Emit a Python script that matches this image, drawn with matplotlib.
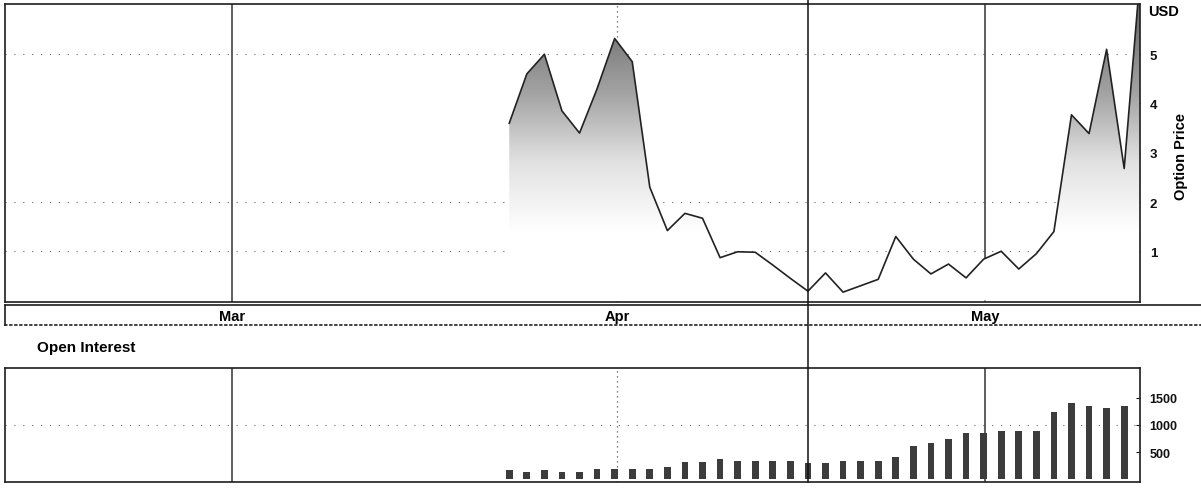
import numpy as np
import matplotlib
matplotlib.use("Agg")
import matplotlib.pyplot as plt
from matplotlib.colors import LinearSegmentedColormap, Normalize
from matplotlib.lines import Line2D

plt.rcParams['font.family'] = ['Liberation Sans', 'DejaVu Sans']
plt.rcParams['font.weight'] = 'bold'

# trading-day index of each observation
days = np.arange(37)
price = [3.6, 4.6, 5.0, 3.85, 3.4, 4.3, 5.32, 4.85, 2.3, 1.42,
         1.77, 1.67, 0.87, 0.99, 0.98, 0.72, 0.45, 0.19, 0.56, 0.17,
         0.3, 0.43, 1.3, 0.84, 0.54, 0.74, 0.46, 0.84, 1.0, 0.64,
         0.95, 1.4, 3.77, 3.39, 5.1, 2.68, 7.0]
open_interest = [175, 130, 175, 143, 143, 200, 200, 187, 187, 231,
                 312, 312, 375, 343, 343, 343, 343, 300, 300, 343,
                 343, 343, 406, 605, 668, 749, 855, 855, 893, 893,
                 893, 1230, 1404, 1342, 1311, 1342]
month_labels = ['Mar', 'Apr', 'May']
month_pos = [-15.8, 6.15, 27.1]
cursor_day = 17
price_ticks = [1, 2, 3, 4, 5]
price_grid = [1, 2, 5]
oi_ticks = [500, 1000, 1500]

W, H = 1201, 489
fig = plt.figure(figsize=(W / 100, H / 100), dpi=100)

def box(l, t, r, b):
    return [l / W, 1 - b / H, (r - l) / W, (b - t) / H]

ax = fig.add_axes(box(5, 5, 1140, 303))
band = fig.add_axes(box(5, 306, 1201, 326))
ax2 = fig.add_axes(box(5, 369, 1140, 483))

xlim = (-28.7, 35.9)
edge = '#1e1e1e'

# ---- price panel
ax.set_xlim(xlim)
ax.set_ylim(-0.03, 6.02)
for y in price_grid:
    ax.axhline(y, color='#666', lw=0.8, ls=(0, (1, 7)), zorder=1)
ax.axvline(month_pos[0], color='#333', lw=1.1, zorder=1)
ax.axvline(month_pos[1], color='#555', lw=0.9, ls=(0, (1, 3)), zorder=1)
ax.axvline(month_pos[2], color='#333', lw=1.1, zorder=1)

poly = ax.fill_between(days, price, 0, facecolor='none', edgecolor='none')
cmap = LinearSegmentedColormap.from_list('shade', ['#ffffff', '#e2e2e2', '#a4a4a4', '#747474'])
grad = np.linspace(0, 6.1, 300).reshape(-1, 1)
im = ax.imshow(grad, extent=[xlim[0], xlim[1], 0, 6.1], origin='lower', aspect='auto',
               cmap=cmap, norm=Normalize(1.4, 5.6), zorder=2)
im.set_clip_path(poly.get_paths()[0], transform=ax.transData)
ax.plot(days, price, color='#222', lw=1.2, zorder=3)

ax.yaxis.tick_right()
ax.set_yticks(price_ticks)
ax.set_xticks([])
ax.tick_params(axis='y', direction='in', length=3, pad=7, labelsize=9.5, colors='#111')

# ---- date band
band.set_xlim(xlim[0], xlim[0] + (1196 / 1135) * (xlim[1] - xlim[0]))
band.set_ylim(0, 1)
band.set_xticks([])
band.set_yticks([])
for name, pos in zip(month_labels, month_pos):
    band.text(pos, 0.45, name, ha='center', va='center', fontsize=10.5, fontweight='bold')
band.spines['right'].set_visible(False)
band.spines['bottom'].set_linestyle((0, (1, 2)))

# ---- open interest panel
ax2.set_xlim(xlim)
ax2.set_ylim(-46, 2042)
ax2.axhline(1000, color='#666', lw=0.8, ls=(0, (1, 7)), zorder=1)
ax2.axvline(month_pos[0], color='#333', lw=1.1, zorder=1)
ax2.axvline(month_pos[1], color='#555', lw=0.9, ls=(0, (1, 3)), zorder=1)
ax2.axvline(month_pos[2], color='#333', lw=1.1, zorder=1)
ax2.bar(days[:len(open_interest)], open_interest, width=0.38, color='#3c3c3c', zorder=2)
ax2.yaxis.tick_right()
ax2.set_yticks(oi_ticks)
ax2.set_xticks([])
ax2.tick_params(axis='y', direction='in', length=3, pad=7, labelsize=9, colors='#111')

for a in (ax, band, ax2):
    for s in a.spines.values():
        s.set_color(edge)
        s.set_linewidth(1.2)

# cursor line running through both panels
fig.canvas.draw()
xc = ax.transData.transform((cursor_day, 0))[0] / W
fig.add_artist(Line2D([xc, xc], [1 - 483 / H, 1 - 1 / H], transform=fig.transFigure,
                      color='#111', lw=1.1))

fig.text(1148 / W, 1 - 12 / H, 'USD', ha='left', va='center', fontsize=10.5, fontweight='bold')
fig.text(1181 / W, 1 - 157 / H, 'Option Price', ha='center', va='center', rotation=90,
         fontsize=10.5, fontweight='bold')
fig.text(37 / W, 1 - 348 / H, 'Open Interest', ha='left', va='center', fontsize=11,
         fontweight='bold')

fig.savefig('out.png', dpi=100)
